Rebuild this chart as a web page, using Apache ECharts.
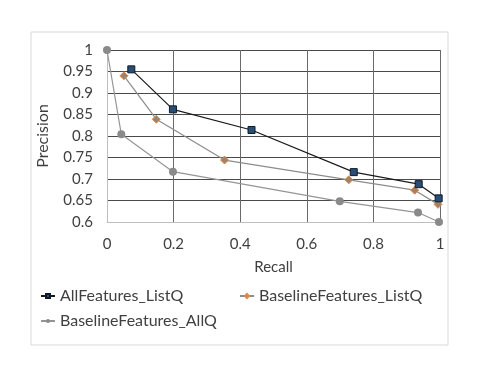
<!DOCTYPE html>
<html><head><meta charset="utf-8">
<script src="https://cdn.jsdelivr.net/npm/echarts@6/dist/echarts.min.js"></script>
<style>html,body{margin:0;padding:0;background:#fff}#c{width:485px;height:374px}</style>
</head><body><div id="c"></div>
<script>
const seriesNames = ['AllFeatures_ListQ', 'BaselineFeatures_ListQ', 'BaselineFeatures_AllQ'];
const allFeaturesListQ = [[0.073,0.955],[0.198,0.862],[0.434,0.814],[0.741,0.716],[0.936,0.688],[0.996,0.655]];
const baselineListQ = [[0.051,0.940],[0.148,0.839],[0.353,0.744],[0.726,0.698],[0.924,0.674],[0.994,0.641]];
const baselineAllQ = [[0.0,1.0],[0.043,0.804],[0.198,0.717],[0.699,0.648],[0.934,0.622],[0.997,0.600]];
const xTicks = [0, 0.2, 0.4, 0.6, 0.8, 1];
const yTicks = [0.6, 0.65, 0.7, 0.75, 0.8, 0.85, 0.9, 0.95, 1];

const font = 'Lato, "Noto Sans", sans-serif';
const chart = echarts.init(document.getElementById('c'));
const lbl = {color:'#404040', fontSize:15, fontFamily:font};
const legendText = {color:'#404040', fontSize:16, fontFamily:font};
chart.setOption({
  animation:false,
  graphic:[{type:'rect', shape:{x:31,y:32,width:417,height:313}, style:{fill:'none', stroke:'#d9d9d9', lineWidth:1}, z:-1}],
  grid:{left:107, right:45, top:50, bottom:152},
  xAxis:{type:'value', min:0, max:1, interval:0.2,
    name:'Recall', nameLocation:'middle', nameGap:38,
    nameTextStyle:{color:'#404040', fontSize:15, fontFamily:font},
    axisLine:{show:true, lineStyle:{color:'#bfbfbf'}}, axisTick:{show:false},
    axisLabel:Object.assign({margin:15, formatter:v=>xTicks.includes(+v.toFixed(2))?String(+v.toFixed(2)):''}, lbl),
    splitLine:{show:true, lineStyle:{color:'#6a6a6a', width:1}}},
  yAxis:{type:'value', min:0.6, max:1, interval:0.05,
    name:'Precision', nameLocation:'middle', nameGap:56, nameRotate:90,
    nameTextStyle:{color:'#404040', fontSize:16, fontFamily:font},
    axisLine:{show:true, lineStyle:{color:'#bfbfbf'}}, axisTick:{show:false},
    axisLabel:Object.assign({margin:14, formatter:v=>{const r=+v.toFixed(2);return yTicks.includes(r)?String(r):'';}}, lbl),
    splitLine:{show:true, lineStyle:{color:'#4a4a4a', width:1}}},
  legend:[
    {data:[seriesNames[0]], left:40, top:288, padding:0, itemWidth:14, itemHeight:5, textStyle:legendText},
    {data:[seriesNames[1]], left:239, top:288, padding:0, itemWidth:14, itemHeight:5, textStyle:legendText},
    {data:[seriesNames[2]], left:40, top:313, padding:0, itemWidth:14, itemHeight:5, textStyle:legendText}
  ],
  series:[
    {name:seriesNames[0], type:'line', data:allFeaturesListQ, symbol:'rect', symbolSize:7,
      lineStyle:{color:'#1a1a1a', width:1.2},
      itemStyle:{color:'#2a4d74', borderColor:'#0d1a2b', borderWidth:1}, z:4},
    {name:seriesNames[1], type:'line', data:baselineListQ, symbol:'diamond', symbolSize:8,
      lineStyle:{color:'#8c8c8c', width:1.2},
      itemStyle:{color:'#a0826a', borderColor:'#e08a4a', borderWidth:1}, z:3},
    {name:seriesNames[2], type:'line', data:baselineAllQ, symbol:'circle', symbolSize:8,
      lineStyle:{color:'#959595', width:1.2},
      itemStyle:{color:'#8a8a8a', borderColor:'#8a8a8a', borderWidth:0}, z:2}
  ]
});
</script></body></html>
